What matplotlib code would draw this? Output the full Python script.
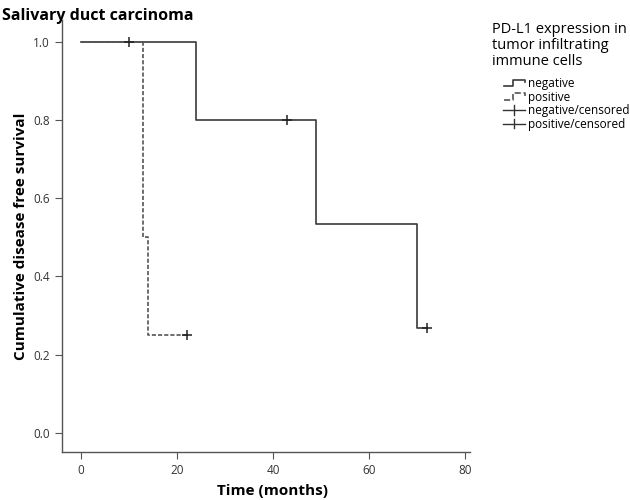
import matplotlib
matplotlib.use('Agg')
import matplotlib.pyplot as plt
from matplotlib.lines import Line2D
from matplotlib.legend_handler import HandlerBase

# Kaplan-Meier data
neg_times = [0, 24, 49, 70]
neg_surv = [1.0, 0.8, 0.533, 0.267]
neg_end = 72
neg_cens_t = [43, 72]
neg_cens_s = [0.8, 0.267]

pos_times = [0, 13, 14]
pos_surv = [1.0, 0.5, 0.25]
pos_end = 22
pos_cens_t = [10, 22]
pos_cens_s = [1.0, 0.25]

xticks = [0, 20, 40, 60, 80]
yticks = [0.0, 0.2, 0.4, 0.6, 0.8, 1.0]

plt.rcParams['font.family'] = ['Open Sans', 'DejaVu Sans']
line_col = '#3a3a3a'


class StepHandler(HandlerBase):
    # little step icon like the SPSS legend, pushed to the right of the box
    def create_artists(self, legend, orig, xd, yd, w, h, fontsize, trans):
        x0 = -xd + w * 0.36
        x1 = -xd + w * 0.62
        x2 = -xd + w
        y0 = -yd + h * 0.15
        y1 = -yd + h * 0.85
        xs = [x0, x1, x1, x2, x2]
        ys = [y0, y0, y1, y1, -yd + h * 0.6]
        ln = Line2D(xs, ys, color=orig.get_color(), linestyle=orig.get_linestyle(),
                    linewidth=orig.get_linewidth(), transform=trans)
        return [ln]


class CensHandler(HandlerBase):
    def create_artists(self, legend, orig, xd, yd, w, h, fontsize, trans):
        x0 = -xd + w * 0.33
        x2 = -xd + w
        xm = (x0 + x2) / 2
        ym = -yd + h * 0.5
        hl = Line2D([x0, x2], [ym, ym], color='#333333', lw=1.0, transform=trans)
        vl = Line2D([xm, xm], [ym - h * 0.5, ym + h * 0.5], color='#333333', lw=1.0, transform=trans)
        return [hl, vl]


fig = plt.figure(figsize=(6.3, 5.0), dpi=100)
ax = fig.add_axes([0.098, 0.096, 0.648, 0.864])

# step curves
nx = neg_times + [neg_end]
ny = neg_surv + [neg_surv[-1]]
px = pos_times + [pos_end]
py = pos_surv + [pos_surv[-1]]
h_neg, = ax.step(nx, ny, where='post', color=line_col, lw=1.2, linestyle='-')
h_pos, = ax.step(px, py, where='post', color='#555555', lw=1.2, linestyle=(0, (2.5, 1.2)))
ax.plot(neg_cens_t, neg_cens_s, linestyle='none', marker='+', color='#222222', ms=7, mew=1.1)
ax.plot(pos_cens_t, pos_cens_s, linestyle='none', marker='+', color='#222222', ms=7, mew=1.1)

ax.set_xlim(-4, 81)
ax.set_ylim(-0.049, 1.056)
ax.set_xticks(xticks)
ax.set_yticks(yticks)
ax.set_yticklabels([f'{v:.1f}' for v in yticks])
ax.spines['top'].set_visible(False)
ax.spines['right'].set_visible(False)
for s in ['left', 'bottom']:
    ax.spines[s].set_color('#555555')
    ax.spines[s].set_linewidth(1.0)
ax.tick_params(direction='out', length=5, color='#555555', labelsize=8.5, labelcolor='#333333')

ax.set_xlabel('Time (months)', fontsize=11, fontweight='bold', labelpad=6)
ax.xaxis.set_label_coords(0.517, -0.075)
ax.set_ylabel('Cumulative disease free survival', fontsize=11, fontweight='bold', labelpad=4)

fig.text(0.003, 0.985, 'Salivary duct carcinoma', fontsize=11.5, fontweight='bold', va='top', ha='left')

cens_neg = Line2D([], [], color='#333333')
cens_pos = Line2D([], [], color='#444444')
leg = fig.legend([h_neg, h_pos, cens_neg, cens_pos],
                 ['negative', 'positive', 'negative/censored', 'positive/censored'],
                 title='PD-L1 expression in\ntumor infiltrating\nimmune cells',
                 loc='upper left', bbox_to_anchor=(0.781, 0.955), frameon=False,
                 fontsize=8.5, title_fontsize=10.5, handlelength=2.8, handletextpad=0.25,
                 handleheight=0.8, labelspacing=0.05, borderaxespad=0, borderpad=0,
                 alignment='left',
                 handler_map={h_neg: StepHandler(), h_pos: StepHandler(),
                              cens_neg: CensHandler(), cens_pos: CensHandler()})
leg.get_title().set_linespacing(1.05)
leg._legend_box.sep = 6

fig.savefig('out.png', dpi=100)
